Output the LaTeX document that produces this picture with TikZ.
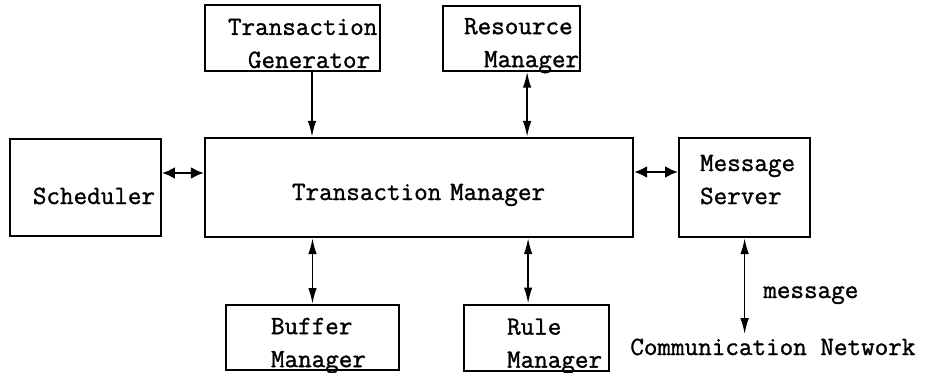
\documentclass[tikz,border=0pt]{standalone}
\usepackage{fontspec}
\usepackage{tikz}
\usetikzlibrary{positioning,arrows.meta,calc}
\newfontfamily\diagfont{Latin Modern Mono}[FakeBold=1.2]

\begin{document}
\begin{tikzpicture}[
  font=\diagfont\fontsize{15}{18.8}\selectfont,
  box/.style={draw, line width=1.2pt, inner sep=0pt, align=left, execute at begin node={\hyphenpenalty=10000}},
  lbl/.style={inner sep=0.8mm},
  ar/.style={-{Latex[length=3.2mm,width=1.7mm]}, line width=1pt},
  arb/.style={{Latex[length=3.2mm,width=1.7mm]}-{Latex[length=3.2mm,width=1.7mm]}, line width=1pt},
  arh/.style={{Latex[length=2.6mm,width=2.4mm]}-{Latex[length=2.6mm,width=2.4mm]}, line width=1.5pt}
]
\useasboundingbox (0,0) rectangle (185.2mm,-74.4mm);

\node[box, text width=85.6mm, text height=12.4mm, text depth=7.4mm] (tm) at (83.8mm,-37.5mm)
  {\hspace*{17.4mm}Transaction Manager};
\node[box, text width=30.2mm, text height=13mm, text depth=6.4mm, left=8.4mm of tm] (sched)
  {\hspace*{4.6mm}Scheduler};
\node[box, text width=26.2mm, text height=6.6mm, text depth=13.2mm, right=8.8mm of tm] (msrv)
  {\hspace*{4.2mm}Message\\\hspace*{4.2mm}Server};
\node[box, text width=35mm, text height=5.9mm, text depth=7.2mm, above=13mm of tm.north west, anchor=south west] (tgen)
  {\hspace*{4.6mm}Transaction\\\hspace*{8.6mm}Generator};
\node[box, text width=27.4mm, text height=5.7mm, text depth=7.3mm, right=12.2mm of tgen] (rsrc)
  {\hspace*{4.2mm}Resource\\\hspace*{8.2mm}Manager};
\node[box, text width=34.6mm, text height=5.8mm, text depth=7.2mm, below=13.2mm of tm.south west, anchor=north west, xshift=4.2mm] (buf)
  {\hspace*{9mm}Buffer\\\hspace*{9mm}Manager};
\node[box, text width=29mm, text height=6mm, text depth=7.2mm, right=12.6mm of buf] (rule)
  {\hspace*{8.6mm}Rule\\\hspace*{8.6mm}Manager};

\node[lbl, anchor=base west] (net) at (125.2mm,-71mm) {Communication Network};
\node[lbl, anchor=base west] (msg) at (151.8mm,-59.6mm) {message};

\draw[arh] ([yshift=2.9mm]sched.east) -- ([yshift=2.9mm]tm.west);
\draw[arh] ([yshift=3.1mm]tm.east) -- ([yshift=3.1mm]msrv.west);
\draw[ar] ([xshift=3.9mm]tgen.south) -- ([xshift=3.9mm]tgen.south |- tm.north);
\draw[arb] ([xshift=3.1mm]rsrc.south) -- ([xshift=3.1mm]rsrc.south |- tm.north);
\draw[arb] (buf.north) -- (buf.north |- tm.south);
\draw[arb] ([xshift=-1.7mm]rule.north) -- ([xshift=-1.7mm]rule.north |- tm.south);
\draw[arb] (msrv.south) -- (msrv.south |- net.north);
\end{tikzpicture}
\end{document}
